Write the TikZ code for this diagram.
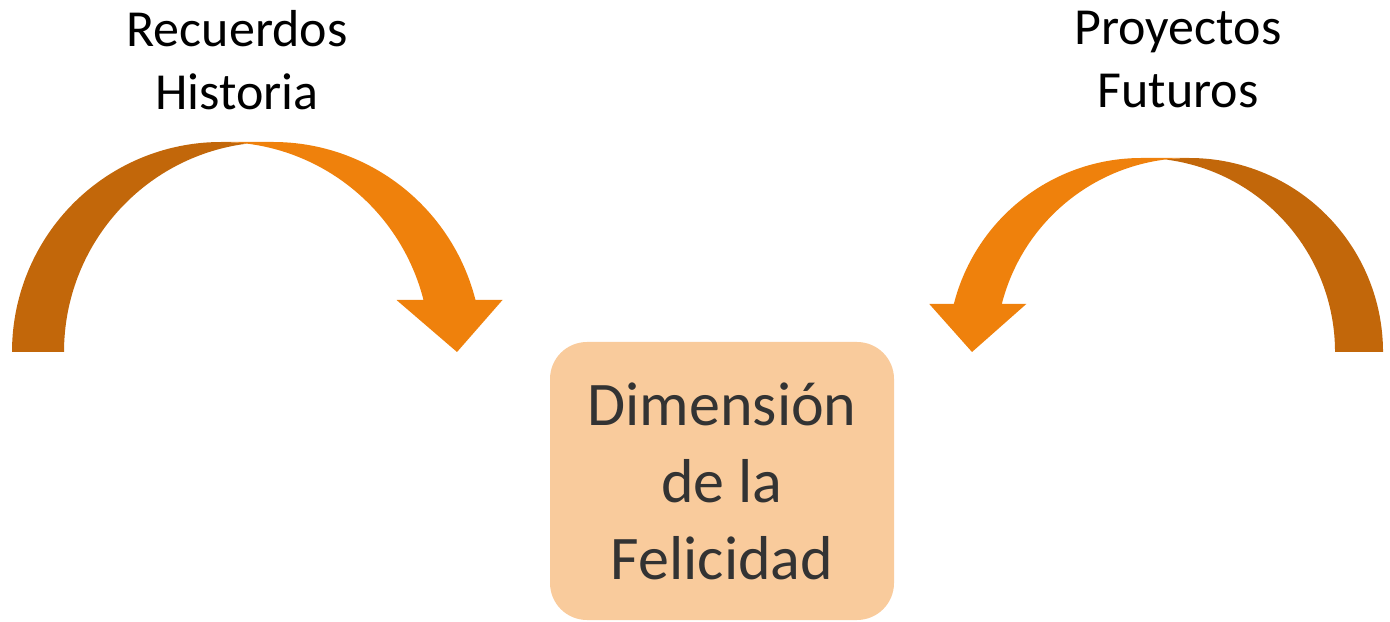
\documentclass[tikz,border=0pt]{standalone}
\usepackage{fontspec}
\setmainfont{Carlito}
\definecolor{arrowdark}{HTML}{C2670A}
\definecolor{arroworange}{HTML}{EF810C}
\definecolor{boxfill}{HTML}{F9CB9C}
\definecolor{boxtext}{HTML}{333333}

\begin{document}
\begin{tikzpicture}[x=0.5pt, y=0.5pt,
  back/.style={fill=arrowdark, draw=none},
  front/.style={fill=arroworange, draw=none},
  toplabel/.style={inner sep=0pt, align=center, font=\fontsize{26}{31.5}\selectfont},
  dimbox/.style={fill=boxfill, rounded corners=18.5pt, minimum width=172pt, minimum height=139pt,
    align=center, text=boxtext, font=\fontsize{31}{38.5}\selectfont}]

\useasboundingbox (0,0) rectangle (1390,621);

% left arrow
\fill[back] (12,269) arc[start angle=180, end angle=82.85, x radius=104.5pt, y radius=105pt]
  arc[start angle=97.15, end angle=180, x radius=104.5pt, y radius=105pt] -- cycle;
\fill[front] (221,479) -- (273,479)
  arc[start angle=90, end angle=14.34, x radius=104.5pt, y radius=105pt]
  -- (502.5,321) -- (457,269) -- (396.5,321) -- (423.5,321)
  arc[start angle=14.34, end angle=90, x radius=104.5pt, y radius=105pt] -- cycle;

% right arrow
\fill[back] (1383,269) arc[start angle=0, end angle=97.12, x radius=96.8pt, y radius=97pt]
  arc[start angle=82.88, end angle=0, x radius=96.8pt, y radius=97pt] -- cycle;
\fill[front] (1189.4,463) -- (1141.4,463)
  arc[start angle=90, end angle=165.67, x radius=96.8pt, y radius=97pt]
  -- (929.3,317) -- (972,269) -- (1026.3,317) -- (1001.8,317)
  arc[start angle=165.67, end angle=90, x radius=96.8pt, y radius=97pt] -- cycle;

\node[toplabel] (recuerdos) at (237,561) {Recuerdos\\Historia};
\node[toplabel] (proyectos) at (1178,561) {Proyectos\\Futuros};
\node[dimbox] (felicidad) at (722,140) {Dimensión\\de la\\Felicidad};

\end{tikzpicture}
\end{document}
